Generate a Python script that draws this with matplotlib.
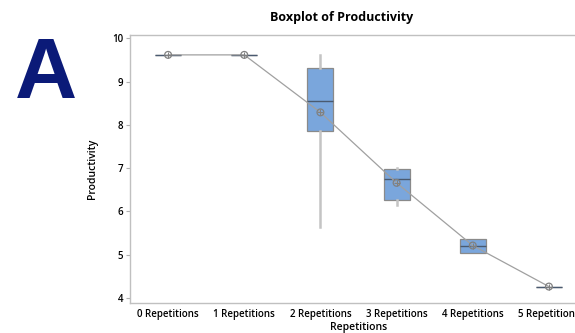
import matplotlib.pyplot as plt

# values
groups = ["0 Repetitions", "1 Repetitions", "2 Repetitions",
          "3 Repetitions", "4 Repetitions", "5 Repetitions"]
whis_low = [9.62, 9.62, 5.64, 6.15, 5.03, 4.26]
q1 = [9.62, 9.62, 7.86, 6.26, 5.03, 4.26]
median = [9.62, 9.62, 8.55, 6.76, 5.20, 4.26]
q3 = [9.62, 9.62, 9.31, 6.97, 5.37, 4.26]
whis_high = [9.62, 9.62, 9.62, 7.00, 5.37, 4.26]
means = [9.62, 9.62, 8.29, 6.66, 5.21, 4.26]

plt.rcParams.update({
    "font.family": ["Open Sans", "DejaVu Sans"],
    "font.size": 7,
})

fig = plt.figure(figsize=(5.75, 3.33), dpi=100)
ax = fig.add_axes([130 / 575, 1 - 303 / 333, 457 / 575, 268 / 333])

stats = []
for i in range(len(groups)):
    stats.append({
        "whislo": whis_low[i], "q1": q1[i], "med": median[i],
        "q3": q3[i], "whishi": whis_high[i], "fliers": [],
    })

x = list(range(len(groups)))
ax.bxp(stats, positions=x, widths=0.34, patch_artist=True,
       showcaps=False,
       boxprops=dict(facecolor="#7aa6dc", edgecolor="#8a8a8a", linewidth=0.9),
       medianprops=dict(color="#4a5a70", linewidth=1.0),
       whiskerprops=dict(color="#c4c4c4", linewidth=1.8))

# connect line through means
ax.plot(x, means, color="#a0a0a0", linewidth=0.9, zorder=3)
ax.scatter(x, means, s=24, facecolors="none", edgecolors="#808080",
           linewidths=0.9, zorder=4)
ax.scatter(x, means, s=24, marker="+", color="#808080", linewidths=0.7,
           zorder=4)

ax.set_xlim(-0.5, 5.5)
ax.set_ylim(3.88, 10.08)
ax.set_yticks([4, 5, 6, 7, 8, 9, 10])
ax.set_xticks(x)
ax.set_xticklabels(groups, fontweight="semibold")
for lab in ax.get_yticklabels():
    lab.set_fontweight("semibold")
ax.tick_params(axis="x", length=0, pad=4)
ax.tick_params(axis="y", length=3, color="#b0b0b0", pad=2)

for side in ["left", "top", "bottom", "right"]:
    ax.spines[side].set_color("#c0c0c0")
    ax.spines[side].set_linewidth(1.0)

ax.set_xlabel("Repetitions", fontsize=7.5, fontweight="semibold", labelpad=2)
ax.set_ylabel("Productivity", fontsize=7.5, fontweight="semibold", labelpad=10)

fig.text(342 / 575, 1 - 18 / 333, "Boxplot of Productivity", ha="center",
         va="center", fontsize=9, fontweight="bold")
fig.text(46 / 575, 1 - 76 / 333, "A", ha="center", va="center",
         fontsize=62, fontweight="bold", color="#0b1a78",
         family="Liberation Sans")

fig.savefig("out.png", dpi=100)
